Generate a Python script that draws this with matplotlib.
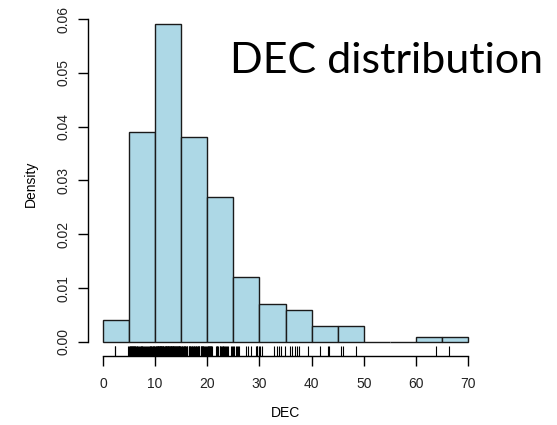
import matplotlib
matplotlib.use("Agg")
import matplotlib.pyplot as plt
import matplotlib.transforms as mtransforms

dec = [
    2.3, 2.3, 4.8, 4.9,
    5.1, 5.2, 5.3, 5.4, 5.5, 5.6, 5.7, 5.8, 5.9, 6.0, 6.1, 6.2, 6.3,
    6.5, 6.6, 6.8, 6.9, 7.0, 7.2, 7.3, 7.4, 7.5,
    7.7, 7.9, 8.1, 8.2, 8.4, 8.6, 8.8,
    9.0, 9.1, 9.2, 9.3, 9.4, 9.5, 9.6, 9.7, 9.8, 9.9,
    10.1, 10.2, 10.3, 10.4, 10.5, 10.6, 10.7, 10.8, 10.9, 11.0,
    11.1, 11.2, 11.3, 11.4, 11.5, 11.6, 11.7, 11.8, 11.9, 12.0,
    12.1, 12.2, 12.3, 12.4, 12.5, 12.6, 12.7, 12.8, 12.9, 13.0,
    13.1, 13.2, 13.3, 13.4, 13.5, 13.6, 13.7, 13.8, 13.9, 14.0,
    14.1, 14.2, 14.3, 14.4, 14.5, 14.6, 14.7, 14.8, 14.9,
    10.5, 11.0, 11.5, 12.0, 12.5, 13.0, 13.5, 14.0, 14.5, 11.2,
    15.1, 15.2, 15.3, 15.5, 15.6, 15.7, 15.8,
    16.0, 16.1, 16.2, 16.4, 16.5, 16.6, 16.7, 16.9,
    17.0, 17.1, 17.3, 17.4, 17.5, 17.6, 17.8, 17.9,
    18.0, 18.2, 18.3, 18.4, 18.5, 18.7, 18.8, 18.9,
    19.0, 19.1, 19.2, 19.4, 19.6, 19.8, 19.9,
    20.1, 20.2, 20.3, 20.4, 20.5, 20.6, 20.7, 20.8, 20.9,
    21.7, 21.8, 21.9, 22.0,
    22.4, 22.5, 22.7, 22.8, 23.0, 23.1, 23.3, 23.4, 23.6, 23.8,
    24.0, 24.5, 24.8, 24.9,
    25.2, 25.5, 25.7, 25.9, 26.1, 27.4, 27.8, 28.3, 29.4, 29.5, 29.6, 29.9,
    30.2, 30.4, 32.8, 33.3, 33.8, 34.1, 34.9,
    35.9, 36.2, 36.8, 37.2, 37.6, 39.3,
    41.6, 43.1, 43.4,
    45.6, 46.0, 48.5,
    63.9,
    66.4,
]
bin_edges = list(range(0, 75, 5))
x_ticks = [0, 10, 20, 30, 40, 50, 60, 70]
y_ticks = [0.00, 0.01, 0.02, 0.03, 0.04, 0.05, 0.06]

plt.rcParams["font.family"] = ["Liberation Sans", "DejaVu Sans"]

W, H = 557, 425
fig = plt.figure(figsize=(W / 100, H / 100), dpi=100)
left, right, bottom, top = 88.4, 482.6, 356, 11
ax = fig.add_axes([left / W, 1 - bottom / H, (right - left) / W, (bottom - top) / H])

ax.hist(dec, bins=bin_edges, density=True, color="#add8e6",
        edgecolor="#1a1a1a", linewidth=1.0)

# rug along the bottom edge of the plot region
trans = mtransforms.blended_transform_factory(ax.transData, ax.transAxes)
ax.vlines(dec, 0, 0.03, transform=trans, color="black", linewidth=0.8)

ax.set_xlim(-2.8, 72.8)
ax.set_ylim(-0.00262, 0.0615)

for s in ["top", "right"]:
    ax.spines[s].set_visible(False)
ax.spines["left"].set_bounds(0, 0.06)
ax.spines["bottom"].set_bounds(0, 70)
ax.spines["left"].set_linewidth(1.0)
ax.spines["bottom"].set_linewidth(1.0)

ax.set_xticks(x_ticks)
ax.set_xticklabels([str(t) for t in x_ticks])
ax.set_yticks(y_ticks)
ax.set_yticklabels(["%.2f" % t for t in y_ticks], rotation=90, va="center")
ax.tick_params(axis="both", length=7, width=1.0, labelsize=10, color="black",
               labelcolor="#222222")
ax.tick_params(axis="x", pad=8)
ax.tick_params(axis="y", pad=6)

ax.set_xlabel("DEC", fontsize=10, labelpad=11)
ax.set_ylabel("Density", fontsize=10, labelpad=13)

fig.text(230 / W, 1 - 73 / H, "DEC distribution", fontsize=31,
         family=["Lato", "DejaVu Sans"], color="black", va="baseline")

fig.savefig("out.png", dpi=100)
